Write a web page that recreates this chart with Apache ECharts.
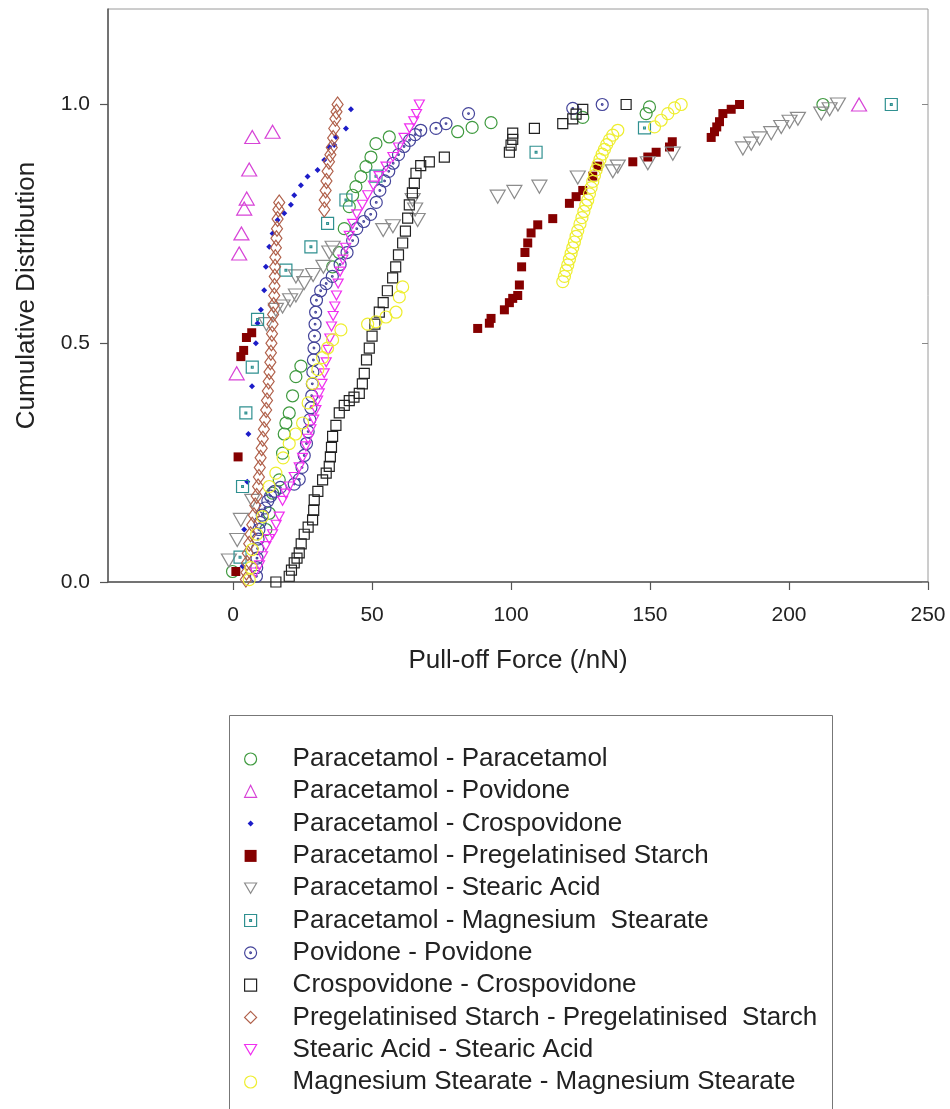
<!DOCTYPE html>
<html>
<head>
<meta charset="utf-8">
<script src="https://cdn.jsdelivr.net/npm/echarts@6.0.0/dist/echarts.min.js"></script>
<style>
html,body{margin:0;padding:0;background:#fff;}
#chart{width:950px;height:1109px;}
</style>
</head>
<body>
<div id="chart"></div>
<script>
// ---------- data ----------
const seriesNames = [
  'Paracetamol - Paracetamol',
  'Paracetamol - Povidone',
  'Paracetamol - Crospovidone',
  'Paracetamol - Pregelatinised Starch',
  'Paracetamol - Stearic Acid',
  'Paracetamol - Magnesium  Stearate',
  'Povidone - Povidone',
  'Crospovidone - Crospovidone',
  'Pregelatinised Starch - Pregelatinised  Starch',
  'Stearic Acid - Stearic Acid',
  'Magnesium Stearate - Magnesium Stearate'
];
const xTicks = [0, 50, 100, 150, 200, 250];
const yTicks = [0, 0.5, 1.0];

const paraPara = [[-0.2,0.022],[11.8,0.11],[13.0,0.144],[14.2,0.186],[16.6,0.214],[17.8,0.27],[18.4,0.31],[19.0,0.333],[20.2,0.354],[21.4,0.39],[22.6,0.43],[24.4,0.452],[35.8,0.66],[38.2,0.69],[40.0,0.74],[41.8,0.786],[43.0,0.81],[44.2,0.828],[46.0,0.849],[47.8,0.87],[49.6,0.89],[51.4,0.918],[56.2,0.932],[80.8,0.943],[86.0,0.952],[92.8,0.962],[125.8,0.973],[148.6,0.981],[149.8,0.995],[212.2,1.0]];
const paraPovidone = [[1.3,0.437],[2.2,0.688],[3.0,0.730],[4.0,0.782],[4.9,0.803],[5.8,0.864],[6.9,0.932],[14.2,0.943],[225.2,1.0]];
const paraCrospovidone = [[3.4,0.033],[4.0,0.11],[5.1,0.21],[5.5,0.31],[6.8,0.41],[8.2,0.50],[8.8,0.542],[10.0,0.57],[11.2,0.611],[11.8,0.66],[13.0,0.702],[14.2,0.73],[16.0,0.758],[18.4,0.772],[20.8,0.79],[22.0,0.81],[24.4,0.831],[26.8,0.849],[30.4,0.863],[32.8,0.884],[34.6,0.911],[36.4,0.915],[37.0,0.932],[40.6,0.95],[42.4,0.99]];
const paraStarch = [[1.0,0.022],[1.8,0.262],[2.8,0.472],[3.8,0.485],[4.8,0.512],[6.7,0.522],[88.0,0.531],[92.2,0.542],[92.8,0.552],[97.6,0.57],[99.4,0.585],[100.6,0.594],[102.4,0.60],[103.0,0.622],[103.8,0.66],[105.0,0.69],[106.0,0.71],[107.2,0.731],[109.6,0.748],[115.0,0.761],[121.0,0.793],[123.4,0.807],[125.8,0.82],[129.4,0.85],[131.2,0.871],[143.8,0.88],[149.2,0.89],[152.2,0.90],[157.0,0.911],[158.0,0.922],[172.0,0.931],[173.2,0.943],[174.0,0.953],[175.0,0.964],[176.2,0.981],[179.2,0.99],[182.2,1.0]];
const paraStearic = [[-1.5,0.045],[1.5,0.088],[2.8,0.13],[6.9,0.17],[12.0,0.54],[15.4,0.57],[17.8,0.577],[20.5,0.59],[22.6,0.60],[25.6,0.626],[22.6,0.64],[28.8,0.643],[32.5,0.66],[34.6,0.69],[35.8,0.70],[54.0,0.737],[57.5,0.745],[66.4,0.758],[65.5,0.78],[64.6,0.80],[95.2,0.807],[101.2,0.817],[110.2,0.828],[124.0,0.847],[136.6,0.86],[138.4,0.87],[149.2,0.877],[158.2,0.897],[183.4,0.908],[186.4,0.918],[189.4,0.929],[193.6,0.94],[197.2,0.953],[200.2,0.964],[203.2,0.97],[211.6,0.981],[214.6,0.99],[217.6,1.0]];
const paraMgSt = [[2.5,0.052],[3.4,0.20],[4.6,0.354],[6.9,0.45],[8.8,0.55],[19.0,0.653],[28.0,0.702],[34.0,0.751],[40.6,0.80],[51.4,0.85],[109.0,0.90],[148.0,0.951],[236.8,1.0]];
const povPov = [[8.4,0.012],[8.5,0.03],[8.6,0.05],[8.8,0.07],[9.0,0.09],[9.3,0.11],[9.7,0.125],[10.5,0.14],[11.5,0.155],[12.5,0.17],[13.5,0.18],[15.0,0.19],[17.0,0.198],[22.0,0.205],[23.8,0.215],[24.8,0.24],[25.6,0.265],[26.4,0.29],[27.0,0.315],[27.6,0.34],[28.0,0.365],[28.3,0.39],[28.5,0.415],[28.7,0.44],[28.9,0.465],[29.1,0.49],[29.3,0.515],[29.5,0.54],[29.7,0.565],[30.0,0.59],[31.5,0.61],[33.5,0.625],[35.7,0.64],[38.5,0.665],[41.0,0.69],[43.0,0.715],[44.5,0.74],[47.0,0.755],[49.5,0.77],[51.5,0.795],[52.8,0.82],[54.5,0.84],[56.0,0.86],[57.6,0.877],[59.5,0.895],[61.5,0.912],[63.5,0.925],[65.5,0.937],[67.5,0.946],[73.0,0.95],[76.6,0.96],[84.7,0.981],[122.2,0.992],[132.8,1.0]];
const crospCrosp = [[15.4,0.0],[20.2,0.012],[21.0,0.025],[22.0,0.04],[23.0,0.05],[23.8,0.061],[24.5,0.08],[25.6,0.10],[27.0,0.115],[28.6,0.13],[29.0,0.15],[29.2,0.172],[30.5,0.19],[32.2,0.214],[33.5,0.228],[34.6,0.242],[35.0,0.262],[35.4,0.282],[35.8,0.305],[37.0,0.328],[38.2,0.354],[40.0,0.37],[41.8,0.38],[43.5,0.387],[45.4,0.395],[46.5,0.415],[47.2,0.437],[48.0,0.465],[49.0,0.49],[50.0,0.515],[51.0,0.54],[52.6,0.565],[54.0,0.585],[55.5,0.61],[57.4,0.637],[58.5,0.66],[59.5,0.685],[61.0,0.71],[62.0,0.735],[62.8,0.762],[63.4,0.79],[64.5,0.815],[65.2,0.835],[65.8,0.856],[67.5,0.872],[70.6,0.88],[76.0,0.89],[99.4,0.90],[100.0,0.915],[100.6,0.927],[100.6,0.94],[108.4,0.95],[118.6,0.96],[122.2,0.97],[123.4,0.98],[125.8,0.99],[141.4,1.0]];
const starchStarch = [[4.6,0.005],[4.8,0.02],[5.0,0.04],[5.3,0.06],[5.8,0.08],[6.3,0.10],[6.9,0.12],[7.5,0.14],[8.0,0.16],[8.5,0.18],[9.0,0.20],[9.3,0.22],[9.6,0.24],[9.9,0.26],[10.3,0.28],[10.7,0.30],[11.1,0.32],[11.5,0.34],[11.9,0.36],[12.2,0.38],[12.5,0.40],[12.8,0.42],[13.1,0.44],[13.4,0.46],[13.6,0.48],[13.8,0.50],[14.0,0.52],[14.2,0.54],[14.4,0.56],[14.6,0.58],[14.8,0.60],[14.9,0.62],[15.0,0.64],[15.1,0.66],[15.2,0.68],[15.4,0.70],[15.6,0.72],[15.8,0.74],[16.0,0.76],[16.3,0.78],[16.6,0.795],[32.8,0.78],[33.0,0.80],[33.3,0.82],[33.6,0.84],[34.0,0.86],[34.5,0.88],[35.0,0.895],[35.5,0.91],[36.0,0.93],[36.4,0.95],[36.8,0.97],[37.2,0.985],[37.6,1.0]];
const stearicStearic = [[8.0,0.02],[9.5,0.035],[10.6,0.054],[11.8,0.075],[13.0,0.09],[14.2,0.10],[15.5,0.12],[16.6,0.137],[17.8,0.17],[19.0,0.185],[20.2,0.20],[22.0,0.22],[23.8,0.24],[25.0,0.26],[26.2,0.284],[27.0,0.30],[28.0,0.32],[29.0,0.34],[29.8,0.36],[30.4,0.38],[31.0,0.395],[32.0,0.415],[32.8,0.437],[33.5,0.46],[34.2,0.486],[34.8,0.51],[35.4,0.535],[36.0,0.557],[36.6,0.577],[37.2,0.60],[37.8,0.625],[38.5,0.65],[39.5,0.675],[40.5,0.70],[41.8,0.725],[43.0,0.75],[44.5,0.77],[46.5,0.79],[48.4,0.81],[50.5,0.83],[52.5,0.85],[55.0,0.87],[57.5,0.89],[59.5,0.91],[61.5,0.93],[63.5,0.95],[65.0,0.965],[66.0,0.98],[67.0,1.0]];
const mgMg = [[5.8,0.005],[6.4,0.03],[6.9,0.068],[8.5,0.10],[10.6,0.137],[13.0,0.20],[15.4,0.228],[18.0,0.26],[20.2,0.29],[22.5,0.31],[25.0,0.333],[27.0,0.375],[28.6,0.416],[30.5,0.445],[32.2,0.47],[34.0,0.49],[35.8,0.507],[38.8,0.528],[48.4,0.54],[51.4,0.545],[55.0,0.555],[58.6,0.565],[59.8,0.597],[61.0,0.618],[118.6,0.629],[119.2,0.64],[119.8,0.652],[120.4,0.664],[121.0,0.676],[121.6,0.688],[122.2,0.70],[122.8,0.712],[123.4,0.724],[124.0,0.736],[124.8,0.75],[125.5,0.763],[126.2,0.776],[126.9,0.789],[127.6,0.80],[128.2,0.813],[128.8,0.826],[129.4,0.839],[130.0,0.851],[130.6,0.863],[131.3,0.874],[132.0,0.885],[132.8,0.896],[133.6,0.906],[134.4,0.916],[135.4,0.926],[136.6,0.936],[138.4,0.946],[151.6,0.953],[154.0,0.967],[156.4,0.981],[158.8,0.993],[161.2,1.0]];

const allData = [paraPara, paraPovidone, paraCrospovidone, paraStarch, paraStearic, paraMgSt, povPov, crospCrosp, starchStarch, stearicStearic, mgMg];

// ---------- styles ----------
const SQ_DOT = 'path://M0,0H20V20H0Z M8.5,8.5H11.5V11.5H8.5Z';
const CIRC_DOT = 'path://M10,0A10,10 0 1,1 10,20A10,10 0 1,1 10,0Z M10,8.6A1.4,1.4 0 1,1 10,11.4A1.4,1.4 0 1,1 10,8.6Z';
const INV_TRI = 'path://M0,0L20,0L10,17.3Z';
const SMALL_DIAMOND_ICON = 'path://M0,0M20,20M10,5L15,10L10,15L5,10Z';

const styles = [
  {symbol:'circle', size:12, stroke:'#3f9a3f', fill:'transparent'},
  {symbol:'triangle', size:[15,13], stroke:'#d743d7', fill:'transparent'},
  {symbol:'diamond', size:[6,6], stroke:null, fill:'#1c1cc8', icon: SMALL_DIAMOND_ICON},
  {symbol:'rect', size:9, stroke:null, fill:'#850000'},
  {symbol:INV_TRI, size:[15,13], stroke:'#8c8c8c', fill:'transparent'},
  {symbol:SQ_DOT, size:12, stroke:'#2f9090', fill:'transparent'},
  {symbol:CIRC_DOT, size:12, stroke:'#44449a', fill:'transparent'},
  {symbol:'rect', size:10, stroke:'#222222', fill:'transparent'},
  {symbol:'diamond', size:[11,15], stroke:'#b0604a', fill:'transparent'},
  {symbol:INV_TRI, size:[10,9], stroke:'#f030f0', fill:'transparent'},
  {symbol:'circle', size:12, stroke:'#eeee30', fill:'transparent'}
];

const series = seriesNames.map((name, i) => ({
  name: name,
  type: 'scatter',
  data: allData[i],
  symbol: styles[i].symbol,
  symbolSize: styles[i].size,
  itemStyle: styles[i].stroke
    ? {color: styles[i].fill, borderColor: styles[i].stroke, borderWidth: 1.2, opacity: 1}
    : {color: styles[i].fill, borderWidth: 0, opacity: 1},
  emphasis: {disabled: true},
  animation: false
}));

const legendData = seriesNames.map((name, i) => styles[i].icon ? {name: name, icon: styles[i].icon} : {name: name});

const chart = echarts.init(document.getElementById('chart'), null, {renderer: 'canvas'});
const FONT = '"Liberation Sans", Arial, Helvetica, sans-serif';
chart.setOption({
  animation: false,
  backgroundColor: '#ffffff',
  textStyle: {fontFamily: FONT},
  grid: {left: 108, right: 22, top: 9, bottom: 527, show: true, borderColor: '#9a9a9a', borderWidth: 1, containLabel: false, outerBoundsMode: 'none'},
  xAxis: {
    type: 'value', min: -45, max: 250,
    name: 'Pull-off Force (/nN)', nameLocation: 'middle', nameGap: 66,
    nameTextStyle: {fontSize: 26, color: '#222', fontFamily: FONT},
    axisLine: {show: true, onZero: false, lineStyle: {color: '#555', width: 1.5}},
    axisTick: {show: true, inside: false, length: 8, customValues: xTicks, lineStyle: {color: '#555', width: 1.2}},
    axisLabel: {show: true, customValues: xTicks, margin: 23, fontSize: 21, color: '#222', fontFamily: FONT},
    splitLine: {show: false}
  },
  yAxis: [{
    type: 'value', min: 0, max: 1.2, position: 'left',
    name: 'Cumulative Distribution', nameLocation: 'middle', nameGap: 68, nameRotate: 90,
    nameTextStyle: {fontSize: 26, color: '#222', fontFamily: FONT},
    axisLine: {show: true, onZero: false, lineStyle: {color: '#555', width: 1.5}},
    axisTick: {show: true, inside: false, length: 8, customValues: yTicks, lineStyle: {color: '#555', width: 1.2}},
    axisLabel: {show: true, customValues: yTicks, margin: 18, fontSize: 21, color: '#222', fontFamily: FONT,
      formatter: v => Number(v).toFixed(1)},
    splitLine: {show: false}
  }, {
    type: 'value', min: 0, max: 1.2, position: 'right',
    axisLine: {show: false, onZero: false},
    axisTick: {show: true, inside: true, length: 6, customValues: yTicks, lineStyle: {color: '#888', width: 1}},
    axisLabel: {show: false},
    splitLine: {show: false}
  }],
  legend: {
    show: true, orient: 'vertical', left: 239, top: 738,
    itemWidth: 12, itemHeight: 12, itemGap: 0.3,
    selectedMode: false,
    itemStyle: {borderWidth: 1.2},
    textStyle: {fontSize: 26, color: '#222', fontFamily: FONT, lineHeight: 32, padding: [0, 0, 0, 31]},
    data: legendData
  },
  graphic: [{
    type: 'rect', silent: true,
    shape: {x: 229.5, y: 715.5, width: 603, height: 430},
    style: {fill: 'none', stroke: '#777', lineWidth: 1}
  }],
  series: series
});
</script>
</body>
</html>
